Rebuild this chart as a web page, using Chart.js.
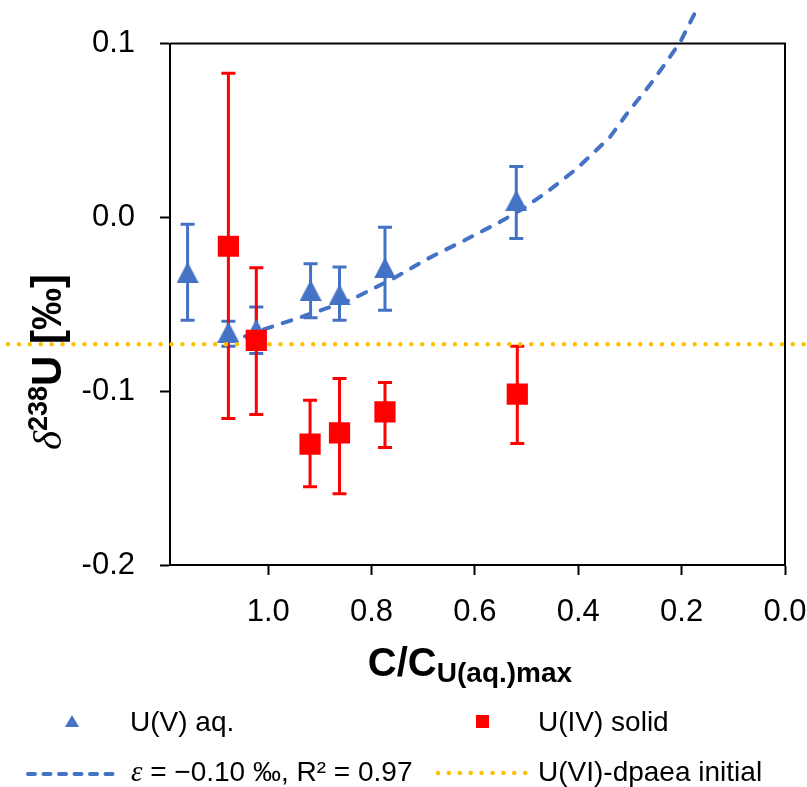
<!DOCTYPE html>
<html>
<head>
<meta charset="utf-8">
<script src="https://cdn.jsdelivr.net/npm/chart.js@4.4.1/dist/chart.umd.min.js"></script>
<style>
  html, body { margin: 0; padding: 0; background: #fff; }
  canvas { display: block; }
</style>
</head>
<body>
<canvas id="chart" width="807" height="787"></canvas>
<script>
// U(V) aq. (blue triangles) with error bar ends
const uvX = [1.156, 1.077, 1.023, 0.918, 0.862, 0.774, 0.520];
const uvY = [-0.0316, -0.0660, -0.0644, -0.0420, -0.0445, -0.0290, 0.0098];
const uvHigh = [-0.0040, -0.0598, -0.0516, -0.0266, -0.0286, -0.0056, 0.0293];
const uvLow = [-0.0592, -0.0741, -0.0783, -0.0577, -0.0592, -0.0534, -0.0122];

// U(IV) solid (red squares)
const uivX = [1.077, 1.023, 0.919, 0.862, 0.774, 0.518];
const uivY = [-0.0166, -0.0707, -0.1304, -0.1240, -0.1119, -0.1017];
const uivHigh = [0.0829, -0.0289, -0.1052, -0.0927, -0.0950, -0.0741];
const uivLow = [-0.1157, -0.1134, -0.1550, -0.1590, -0.1324, -0.1301];

// Rayleigh fit curve, eps = -0.10 permil
const fitX = [1.045, 1.023, 0.926, 0.842, 0.758, 0.691, 0.623, 0.552, 0.507, 0.461, 0.403, 0.339, 0.306, 0.255, 0.203, 0.172];
const fitY = [-0.0684, -0.0659, -0.0563, -0.0477, -0.0352, -0.0237, -0.0136, -0.0027, 0.0050, 0.0145, 0.0280, 0.0461, 0.0596, 0.0787, 0.1007, 0.1190];

// initial U(VI)-dpaea value
const initialValue = -0.073;

const xTicks = [0, 0.2, 0.4, 0.6, 0.8, 1.0];
const yTicks = [-0.2, -0.1, 0.0, 0.1];

const BLUE = '#4472C4';
const RED = '#FF0000';
const GOLD = '#FFC000';
const SANS = '"Liberation Sans", Arial, sans-serif';
const SERIF = '"Liberation Serif", "Times New Roman", serif';

function toPoints(xs, ys) {
    return xs.map((x, i) => ({ x: x, y: ys[i] }));
}

// triangle marker centred on its bounding box (like Excel)
function makeTriangle(w, h, color) {
    const c = document.createElement('canvas');
    c.width = w;
    c.height = h;
    const g = c.getContext('2d');
    g.fillStyle = color;
    g.beginPath();
    g.moveTo(w / 2, 0);
    g.lineTo(w, h);
    g.lineTo(0, h);
    g.closePath();
    g.fill();
    return c;
}

function drawErrorBars(ctx, xs, ys, xv, hi, lo, color) {
    ctx.save();
    ctx.strokeStyle = color;
    ctx.lineWidth = 3;
    xv.forEach((v, i) => {
        const px = xs.getPixelForValue(v);
        const top = ys.getPixelForValue(hi[i]);
        const bot = ys.getPixelForValue(lo[i]);
        ctx.beginPath();
        ctx.moveTo(px, top); ctx.lineTo(px, bot);
        ctx.moveTo(px - 7, top); ctx.lineTo(px + 7, top);
        ctx.moveTo(px - 7, bot); ctx.lineTo(px + 7, bot);
        ctx.stroke();
    });
    ctx.restore();
}

function dottedLine(ctx, x1, x2, y) {
    ctx.save();
    ctx.strokeStyle = GOLD;
    ctx.lineWidth = 4.5;
    ctx.lineCap = 'round';
    ctx.setLineDash([0, 10.9]);
    ctx.beginPath();
    ctx.moveTo(x1, y);
    ctx.lineTo(x2, y);
    ctx.stroke();
    ctx.restore();
}

function dashedLine(ctx, x1, x2, y) {
    ctx.save();
    ctx.strokeStyle = BLUE;
    ctx.lineWidth = 4;
    ctx.lineCap = 'round';
    ctx.setLineDash([7, 8.5]);
    ctx.beginPath();
    ctx.moveTo(x1, y);
    ctx.lineTo(x2, y);
    ctx.stroke();
    ctx.restore();
}

// draws text pieces one after another: [text, font, dy]
function drawRuns(ctx, runs, x, y) {
    let cx = x;
    runs.forEach(r => {
        ctx.font = r[1];
        ctx.fillText(r[0], cx, y + (r[2] || 0));
        cx += ctx.measureText(r[0]).width;
    });
}

function runsWidth(ctx, runs) {
    let w = 0;
    runs.forEach(r => { ctx.font = r[1]; w += ctx.measureText(r[0]).width; });
    return w;
}

const triMarker = makeTriangle(22, 21, BLUE);
const triLegend = makeTriangle(14, 12, BLUE);

const decor = {
    id: 'decor',
    beforeDatasetsDraw(chart) {
        const { ctx, chartArea: a, scales: { x, y } } = chart;
        // top and right frame
        ctx.save();
        ctx.strokeStyle = '#000';
        ctx.lineWidth = 2;
        ctx.beginPath();
        ctx.moveTo(a.left, a.top);
        ctx.lineTo(a.right, a.top);
        ctx.lineTo(a.right, a.bottom);
        ctx.stroke();
        ctx.restore();
        drawErrorBars(ctx, x, y, uvX, uvHigh, uvLow, BLUE);
        drawErrorBars(ctx, x, y, uivX, uivHigh, uivLow, RED);
    },
    beforeDatasetDraw(chart, args) {
        if (args.index !== 0) return;
        // horizontal initial value line, runs across the whole figure
        const py = chart.scales.y.getPixelForValue(initialValue);
        dottedLine(chart.ctx, 8, chart.width - 2, py);
    },
    afterDraw(chart) {
        const ctx = chart.ctx;
        ctx.save();
        ctx.fillStyle = '#000';
        ctx.textBaseline = 'alphabetic';
        ctx.textAlign = 'left';

        // x axis title
        const xRuns = [
            ['C/C', 'bold 40px ' + SANS, 0],
            ['U(aq.)max', 'bold 28px ' + SANS, 6]
        ];
        drawRuns(ctx, xRuns, 470 - runsWidth(ctx, xRuns) / 2, 676);

        // y axis title
        const yRuns = [
            ['\u03B4', 'italic 41px ' + SERIF, 0],
            ['238', 'bold 27px ' + SANS, -14],
            ['U [\u2030]', 'bold 42px ' + SANS, 0]
        ];
        ctx.save();
        ctx.translate(61, 362);
        ctx.rotate(-Math.PI / 2);
        drawRuns(ctx, yRuns, -runsWidth(ctx, yRuns) / 2, 0);
        ctx.restore();

        // legend
        const lf = '28px ' + SANS;
        ctx.drawImage(triLegend, 72 - 7, 721 - 6);
        ctx.font = lf;
        ctx.fillText('U(V) aq.', 130, 731);
        ctx.fillStyle = RED;
        ctx.fillRect(476, 715, 13, 13);
        ctx.fillStyle = '#000';
        ctx.fillText('U(IV) solid', 538, 731);

        dashedLine(ctx, 28, 121, 774);
        drawRuns(ctx, [
            ['\u03B5', 'italic 29px ' + SERIF, 0],
            [' = \u22120.10 \u2030, R\u00B2 = 0.97', lf, 0]
        ], 131, 781);
        dottedLine(ctx, 438, 528, 773);
        ctx.font = lf;
        ctx.fillText('U(VI)-dpaea initial', 538, 781);
        ctx.restore();
    }
};

const ctx = document.getElementById('chart').getContext('2d');
new Chart(ctx, {
    type: 'scatter',
    data: {
        datasets: [{
            label: 'U(IV) solid',
            data: toPoints(uivX, uivY),
            pointStyle: 'rect',
            pointRadius: 15,
            backgroundColor: RED,
            borderColor: RED,
            borderWidth: 0
        }, {
            label: '\u03B5 = \u22120.10 \u2030, R\u00B2 = 0.97',
            data: toPoints(fitX, fitY),
            showLine: true,
            pointRadius: 0,
            borderColor: BLUE,
            borderWidth: 4,
            borderDash: [9, 11],
            borderCapStyle: 'round',
            tension: 0,
            clip: false
        }, {
            label: 'U(V) aq.',
            data: toPoints(uvX, uvY),
            pointStyle: triMarker,
            backgroundColor: BLUE,
            borderColor: BLUE
        }]
    },
    options: {
        responsive: false,
        animation: false,
        events: [],
        layout: { padding: { top: 43, right: 22, left: 0, bottom: 0 } },
        plugins: {
            legend: { display: false },
            tooltip: { enabled: false }
        },
        scales: {
            x: {
                type: 'linear',
                reverse: true,
                min: 0,
                max: 1.19,
                afterBuildTicks: axis => { axis.ticks = xTicks.map(v => ({ value: v })); },
                afterFit: axis => { axis.height = 222; },
                grid: { drawOnChartArea: false, drawTicks: true, tickLength: 10, tickWidth: 2, tickColor: '#000' },
                border: { display: true, color: '#000', width: 2 },
                ticks: {
                    color: '#000',
                    font: { family: SANS, size: 31 },
                    padding: 19,
                    maxRotation: 0,
                    autoSkip: false,
                    callback: v => v.toFixed(1)
                }
            },
            y: {
                type: 'linear',
                min: -0.2,
                max: 0.1,
                afterBuildTicks: axis => { axis.ticks = yTicks.map(v => ({ value: v })); },
                afterFit: axis => { axis.width = 170; },
                grid: { drawOnChartArea: false, drawTicks: true, tickLength: 10, tickWidth: 2, tickColor: '#000' },
                border: { display: true, color: '#000', width: 2 },
                ticks: {
                    color: '#000',
                    font: { family: SANS, size: 31 },
                    padding: 25,
                    autoSkip: false,
                    callback: v => v.toFixed(1)
                }
            }
        }
    },
    plugins: [decor]
});
</script>
</body>
</html>
